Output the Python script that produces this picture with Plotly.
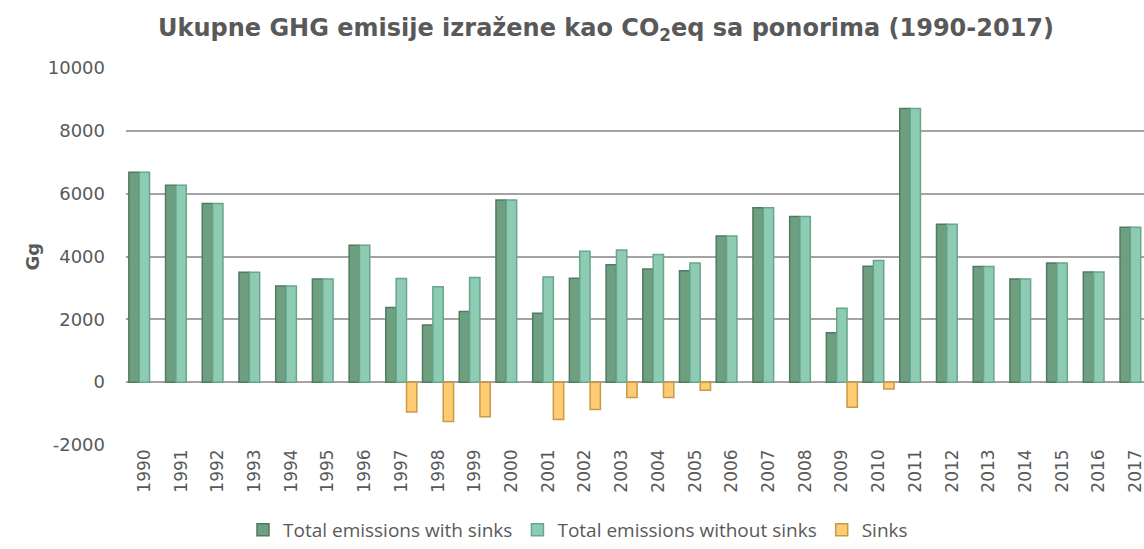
import plotly.graph_objects as go

years = [str(y) for y in range(1990, 2018)]

with_sinks = [6680, 6270, 5690, 3500, 3060, 3280, 4360, 2380, 1820, 2250,
              5800, 2190, 3310, 3740, 3600, 3550, 4650, 5550, 5270, 1570,
              3690, 8710, 5030, 3680, 3280, 3790, 3510, 4930]

without_sinks = [6680, 6270, 5690, 3500, 3060, 3280, 4360, 3300, 3040, 3330,
                 5800, 3350, 4170, 4210, 4060, 3790, 4650, 5550, 5270, 2350,
                 3870, 8710, 5030, 3680, 3280, 3790, 3510, 4930]

sinks = [None, None, None, None, None, None, None, -950, -1250, -1100,
         None, -1185, -870, -490, -490, -255, None, None, None, -795,
         -220, None, None, None, None, None, None, None]

y_tick_vals = [-2000, 0, 2000, 4000, 6000, 8000, 10000]
y_tick_text = ["-2000", "0", "2000", "4000", "6000", "8000", "10000"]

names = ["Total emissions with sinks", "Total emissions without sinks", "Sinks"]
fills = ["#6f9f81", "#8ecbb3", "#ffcc73"]
borders = ["#4f7b5f", "#67a68d", "#c99a45"]

fig = go.Figure()
for name, vals, fc, bc in zip(names, [with_sinks, without_sinks, sinks], fills, borders):
    fig.add_trace(go.Bar(
        x=years, y=vals, name=name,
        marker=dict(color=fc, line=dict(color=bc, width=1.5)),
    ))

grey = "#595959"
fig.update_layout(
    width=1144, height=549,
    paper_bgcolor="white", plot_bgcolor="white",
    margin=dict(l=126, r=0, t=68, b=104, autoexpand=False),
    barmode="group", bargap=0.155, bargroupgap=0,
    title=dict(
        text="Ukupne GHG emisije izražene kao CO<sub>2</sub>eq sa ponorima (1990-2017)",
        font=dict(family="DejaVu Sans", size=24, color=grey, weight="bold"),
        x=606 / 1144, xref="container", xanchor="center",
        y=1 - 28 / 549, yref="container", yanchor="middle",
    ),
    legend=dict(
        orientation="h", xref="container", yref="container",
        x=578 / 1144, xanchor="center", y=0, yanchor="bottom",
        font=dict(family="Open Sans", size=19, color=grey),
        itemclick=False, borderwidth=0, tracegroupgap=0,
    ),
    showlegend=True,
)
fig.update_xaxes(
    type="category", range=[-0.5, 27.23], automargin=False,
    tickangle=-90, tickfont=dict(family="DejaVu Sans", size=17, color=grey),
    showgrid=False, showline=False, ticks="",
)
fig.update_yaxes(
    range=[-2000, 10000], tickvals=y_tick_vals, ticktext=y_tick_text,
    automargin=False,
    showgrid=True, gridcolor="#a3a3a3", gridwidth=1.6,
    zeroline=True, zerolinecolor="#a3a3a3", zerolinewidth=1.6,
    showline=False, ticks="",
    tickfont=dict(family="DejaVu Sans", size=18, color=grey),
    ticklabelstandoff=20,
)
fig.add_annotation(
    text="<b>Gg</b>", textangle=-90, showarrow=False,
    xref="paper", yref="paper", x=(32 - 126) / 1018, y=0.5,
    xanchor="center", yanchor="middle",
    font=dict(family="DejaVu Sans", size=18, color=grey),
)
fig.write_html(
    "out.html",
    config={"displayModeBar": False},
    post_script="document.body.style.margin='0';document.body.style.overflow='hidden';",
)
